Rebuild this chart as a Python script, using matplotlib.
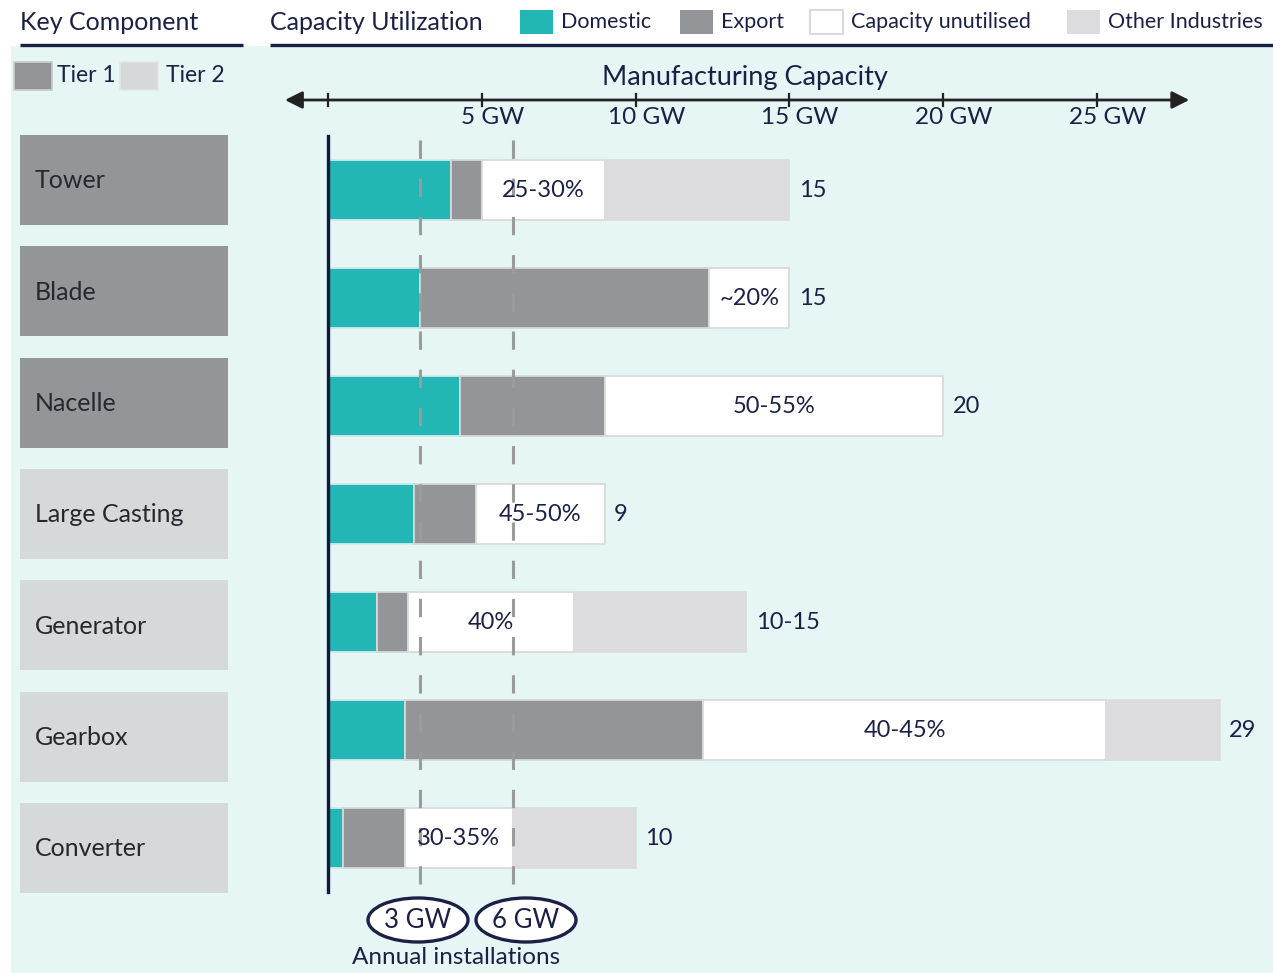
import matplotlib
matplotlib.use("Agg")
import matplotlib.pyplot as plt
from matplotlib.patches import Rectangle, Ellipse
from matplotlib.transforms import blended_transform_factory

# ---- data -------------------------------------------------------------
components = ["Tower", "Blade", "Nacelle", "Large Casting", "Generator", "Gearbox", "Converter"]
tiers = [1, 1, 1, 2, 2, 2, 2]
domestic = [4.0, 3.0, 4.3, 2.8, 1.6, 2.5, 0.5]
export = [1.0, 9.4, 4.7, 2.0, 1.0, 9.7, 2.0]
unutilised = [4.0, 2.6, 11.0, 4.2, 5.4, 13.1, 3.5]
other = [6.0, 0.0, 0.0, 0.0, 5.6, 3.7, 4.0]
util_labels = ["25-30%", "~20%", "50-55%", "45-50%", "40%", "40-45%", "30-35%"]
total_labels = ["15", "15", "20", "9", "10-15", "29", "10"]
scale_ticks = [0, 5, 10, 15, 20, 25]
installations = [3, 6]

# ---- style ------------------------------------------------------------
plt.rcParams["font.family"] = ["Lato", "DejaVu Sans"]
NAVY = "#1b2146"
TEAL = "#22b6b4"
EXPORT = "#949599"
OTHER = "#dcdcde"
EDGE = "#d9dadb"
BG = "#e6f6f5"
TIER_COL = {1: "#949599", 2: "#d6d9da"}

W, H = 1273, 973
fig = plt.figure(figsize=(W / 100, H / 100), dpi=100)

# overlay in pixel units for layout elements
ov = fig.add_axes([0, 0, 1, 1], zorder=0)
ov.set_xlim(0, W)
ov.set_ylim(H, 0)
ov.axis("off")

# bar axes: 0 GW at x=328 px, 30.76 px per GW; rows at 190 + 108*i px
px_per_gw = 30.76
x0, y_top, y_bot = 328, 136, 892
ax = fig.add_axes([x0 / W, 1 - y_bot / H, (W - x0) / W, (y_bot - y_top) / H], zorder=1)
ax.set_facecolor("none")
ax.set_xlim(0, (W - x0) / px_per_gw)
ax.set_ylim(len(components) - 0.5, -0.5)
ax.set_xticks([])
ax.set_yticks([])
for s in ["top", "right", "bottom"]:
    ax.spines[s].set_visible(False)
ax.spines["left"].set_color("#0e1a3d")
ax.spines["left"].set_linewidth(2.4)

bt = blended_transform_factory(ax.transData, ov.transData)

# background panel
ov.add_patch(Rectangle((11, 46), W - 11, H - 46, facecolor=BG, edgecolor="none", zorder=0))

# header
ov.text(20, 22, "Key Component", fontsize=18, color=NAVY, va="center", ha="left")
ov.plot([20, 243], [45, 45], color=NAVY, lw=2.4, solid_capstyle="butt")
ov.text(270, 22, "Capacity Utilization", fontsize=18, color=NAVY, va="center", ha="left")
ov.plot([270, W], [45, 45], color=NAVY, lw=2.4, solid_capstyle="butt")

legend_items = [("Domestic", TEAL, "none", 520), ("Export", EXPORT, "none", 680),
                ("Capacity unutilised", "white", EDGE, 810), ("Other Industries", OTHER, "none", 1067)]
for name, fc, ec, lx in legend_items:
    ov.add_patch(Rectangle((lx, 10), 33, 24, facecolor=fc, edgecolor=ec, lw=1.5, zorder=2))
    ov.text(lx + 41, 22, name, fontsize=15.5, color=NAVY, va="center", ha="left")

# tier legend
ov.add_patch(Rectangle((14, 62), 38, 28, facecolor=TIER_COL[1], edgecolor="#c9cacc", lw=1.2, zorder=2))
ov.text(57, 76, "Tier 1", fontsize=16.5, color=NAVY, va="center", ha="left")
ov.add_patch(Rectangle((120, 62), 38, 28, facecolor=TIER_COL[2], edgecolor="#e3e5e6", lw=1.2, zorder=2))
ov.text(166, 76, "Tier 2", fontsize=16.5, color=NAVY, va="center", ha="left")

# component boxes
for i, (name, tier) in enumerate(zip(components, tiers)):
    top = 135 + 111.3 * i
    ov.add_patch(Rectangle((20, top), 208, 90, facecolor=TIER_COL[tier], edgecolor="none", zorder=2))
    ov.text(35, top + 46, name, fontsize=18, color="#262830", va="center", ha="left", zorder=3)

# capacity scale with arrows
ov.text(745, 77, "Manufacturing Capacity", fontsize=19.5, color=NAVY, va="center", ha="center")
ov.annotate("", xy=(28.0, 100), xytext=(-1.4, 100), xycoords=bt, textcoords=bt,
            arrowprops=dict(arrowstyle="<|-|>", color="#222222", lw=2.0, mutation_scale=26,
                            shrinkA=0, shrinkB=0))
for t in scale_ticks:
    ov.plot([t, t], [94, 106], transform=bt, color="#222222", lw=1.6)
    if t > 0:
        ov.text(t + 0.35, 117, f"{t} GW", transform=bt, fontsize=17.5, color=NAVY,
                ha="center", va="center")

# stacked bars
ypos = list(range(len(components)))
bar_h = 0.556
left = [0.0] * len(components)
for vals, col, ec in [(domestic, TEAL, "#d0e8e8"), (export, EXPORT, "#d6d7d9"),
                      (unutilised, "white", EDGE), (other, OTHER, OTHER)]:
    ax.barh(ypos, vals, left=left, height=bar_h, color=col, edgecolor=ec, lw=1.3, zorder=2)
    left = [l + v for l, v in zip(left, vals)]

for i in ypos:
    start = domestic[i] + export[i]
    ax.text(start + unutilised[i] / 2, i, util_labels[i], fontsize=17, color=NAVY,
            ha="center", va="center", zorder=4)
    ax.text(left[i] + 0.3, i, total_labels[i], fontsize=17, color=NAVY,
            ha="left", va="center", zorder=4)

# annual installation markers
for g in installations:
    ax.plot([g, g], [140, 897], transform=bt, color="#9a9b9d", lw=2.2,
            linestyle=(0, (6, 6.5)), clip_on=False, zorder=3)

fg = fig.add_axes([0, 0, 1, 1], zorder=5)
fg.set_xlim(0, W)
fg.set_ylim(H, 0)
fg.axis("off")
for g, cx in zip(installations, [418, 526]):
    fg.add_patch(Ellipse((cx, 920), 100, 44, facecolor="white", edgecolor=NAVY, lw=2.4))
    fg.text(cx, 921, f"{g} GW", fontsize=18.5, color=NAVY, ha="center", va="center")
fg.text(456, 957, "Annual installations", fontsize=17.5, color=NAVY, ha="center", va="center")

fig.savefig("out.png", dpi=100, facecolor="white")
